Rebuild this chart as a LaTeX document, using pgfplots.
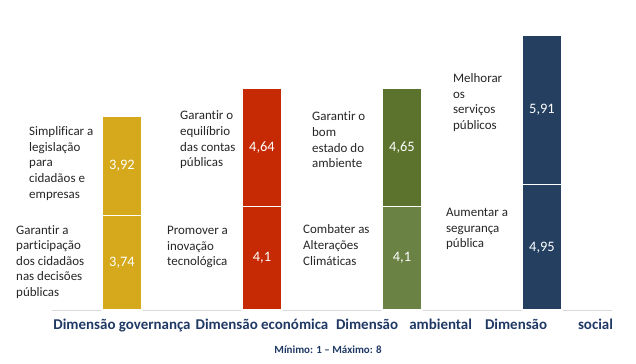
\documentclass[border=0pt]{standalone}
\usepackage{fontspec}
\setmainfont{Carlito}[Ligatures=NoCommon]
\usepackage{pgfplots}
\pgfplotsset{compat=1.18}
\definecolor{gold}{HTML}{D5A91B}
\definecolor{redc}{HTML}{C62A04}
\definecolor{grnA}{HTML}{6A8244}
\definecolor{grnB}{HTML}{5B732C}
\definecolor{navy}{HTML}{243F60}
\definecolor{lbl}{HTML}{1F3864}
\definecolor{txt}{HTML}{262626}
\tikzset{desc/.style={font=\fontsize{13}{15.7}\selectfont, text=txt, align=left, anchor=west, inner sep=0pt}}
\begin{document}
\begin{tikzpicture}
\useasboundingbox (0,0) rectangle (636bp,364bp);
\pgfplotsset{frame/.style={at={(52bp,54bp)}, anchor=south west, scale only axis,
  width=560bp, height=310bp, xmin=-0.5, xmax=3.5, ymin=0, ymax=12.25, clip=false}}
\begin{axis}[frame,
  ybar stacked, bar width=40bp,
  axis x line*=bottom, axis y line=none,
  x axis line style={draw=black!15, line width=1bp, -},
  xtick={0,1,2,3},
  xticklabels={Dimensão governança,
               Dimensão económica,
               \hspace*{4bp}\makebox[136bp][s]{Dimensão\hfill ambiental},
               \hspace*{14bp}\makebox[128bp][s]{Dimensão\hfill social}},
  major tick length=0pt,
  xticklabel style={font=\fontsize{15}{18}\selectfont\bfseries, text=lbl, inner sep=0pt, anchor=north, yshift=-9bp},
  every axis plot/.append style={draw=white, line width=1.2bp},
]
\addplot[fill=gold] coordinates {(0,3.74) (1,0) (2,0) (3,0)};
\addplot[fill=redc] coordinates {(0,0) (1,4.1) (2,0) (3,0)};
\addplot[fill=grnA] coordinates {(0,0) (1,0) (2,4.1) (3,0)};
\addplot[fill=navy] coordinates {(0,0) (1,0) (2,0) (3,4.95)};
\addplot[fill=gold] coordinates {(0,3.92) (1,0) (2,0) (3,0)};
\addplot[fill=redc] coordinates {(0,0) (1,4.64) (2,0) (3,0)};
\addplot[fill=grnB] coordinates {(0,0) (1,0) (2,4.65) (3,0)};
\addplot[fill=navy] coordinates {(0,0) (1,0) (2,0) (3,5.91)};
\node[desc] at (axis cs:-0.664,5.79) {Simplificar a\\legislação\\para\\cidadãos e\\empresas};
\node[desc] at (axis cs:-0.757,1.90) {Garantir a\\participação\\dos cidadãos\\nas decisões\\públicas};
\node[desc] at (axis cs:0.414,6.72) {Garantir o\\equilíbrio\\das contas\\públicas};
\node[desc] at (axis cs:0.321,2.49) {Promover a\\inovação\\tecnológica};
\node[desc] at (axis cs:1.357,6.72) {Garantir o\\bom\\estado do\\ambiente};
\node[desc] at (axis cs:1.293,2.57) {Combater as\\Alterações\\Climáticas};
\node[desc] at (axis cs:2.364,8.20) {Melhorar\\os\\serviços\\públicos};
\node[desc] at (axis cs:2.314,3.20) {Aumentar a\\segurança\\pública};
\node[font=\fontsize{11}{13}\selectfont\bfseries, text=lbl, yshift=-40bp] at (rel axis cs:0.493,0) {Mínimo: 1 – Máximo: 8};
\end{axis}
\begin{axis}[frame, hide axis]
\addplot[draw=none, mark=none, nodes near coords, point meta=explicit symbolic,
  every node near coord/.append style={anchor=center, font=\fontsize{14.5}{17}\selectfont, text=white}]
  table[meta=lab] {
x y lab
0 1.87 3,74
0 5.70 3,92
1 2.05 4,1
1 6.42 4,64
2 2.05 4,1
2 6.425 4,65
3 2.475 4,95
3 7.905 5,91
};
\end{axis}
\end{tikzpicture}
\end{document}
